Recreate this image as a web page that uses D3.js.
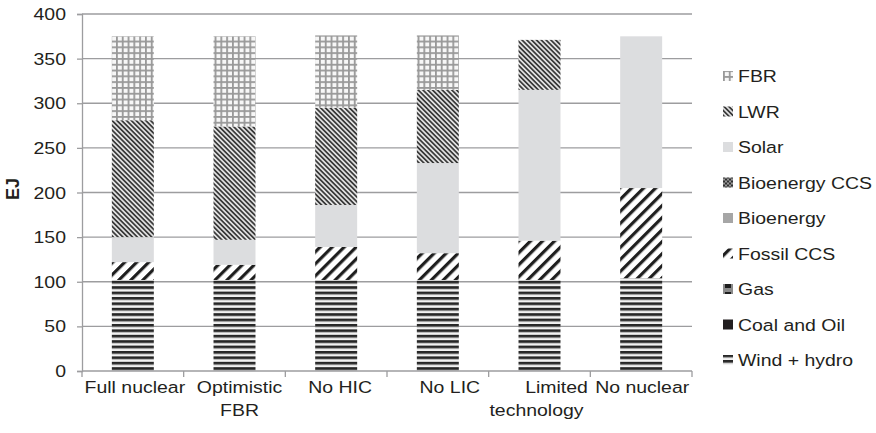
<!DOCTYPE html>
<html>
<head>
<meta charset="utf-8">
<script src="https://cdn.jsdelivr.net/npm/d3@7"></script>
<style>
  html, body { margin: 0; padding: 0; background: #fff; }
  svg { display: block; }
  text { font-family: "Liberation Sans", Arial, sans-serif; fill: #231f20; }
</style>
</head>
<body>
<svg id="chart" width="876" height="433"></svg>
<script>
// ---------- DATA ----------
const categories = ["Full nuclear", "Optimistic FBR", "No HIC", "No LIC", "Limited technology", "No nuclear"];
const categoryLines = [["Full nuclear"], ["Optimistic", "FBR"], ["No HIC"], ["No LIC"], ["Limited", "technology"], ["No nuclear"]];

// stack order, bottom to top
const seriesNames = ["Wind + hydro", "Coal and Oil", "Gas", "Fossil CCS", "Bioenergy", "Bioenergy CCS", "Solar", "LWR", "FBR"];

const windHydro    = [102, 102, 102, 102, 102, 104];
const coalOil      = [0, 0, 0, 0, 0, 0];
const gas          = [0, 0, 0, 0, 0, 0];
const fossilCCS    = [20, 17, 37, 30, 44, 101];
const bioenergy    = [0, 0, 0, 0, 0, 0];
const bioenergyCCS = [0, 0, 0, 0, 0, 0];
const solar        = [28, 28, 47, 101, 169, 170];
const lwr          = [131, 127, 109, 82, 56, 0];
const fbr          = [94, 101, 81, 61, 0, 0];

const yTicks = [0, 50, 100, 150, 200, 250, 300, 350, 400];
const legendOrder = ["FBR", "LWR", "Solar", "Bioenergy CCS", "Bioenergy", "Fossil CCS", "Gas", "Coal and Oil", "Wind + hydro"];

(function () {
// ---------- BUILD TABLE ----------
const valuesBySeries = {
  "Wind + hydro": windHydro, "Coal and Oil": coalOil, "Gas": gas, "Fossil CCS": fossilCCS,
  "Bioenergy": bioenergy, "Bioenergy CCS": bioenergyCCS, "Solar": solar, "LWR": lwr, "FBR": fbr
};
const table = categories.map((c, i) => {
  const row = { category: c };
  seriesNames.forEach(s => row[s] = valuesBySeries[s][i]);
  return row;
});

// ---------- LAYOUT ----------
const svg = d3.select("#chart");
const mLeft = 82, mRight = 692, mTop = 14, mBottom = 371;
const SX = 1.18; // horizontal text stretch seen in the reference

const x = d3.scaleBand().domain(categories).range([mLeft, mRight]).paddingInner(0.587).paddingOuter(0.2935);
const y = d3.scaleLinear().domain([0, 400]).range([mBottom, mTop]);
const step = x.step();

// ---------- PATTERNS ----------
const defs = svg.append("defs");
function pat(id, w, h, rot) {
  const p = defs.append("pattern").attr("id", id).attr("patternUnits", "userSpaceOnUse")
    .attr("width", w).attr("height", h);
  if (rot) p.attr("patternTransform", `rotate(${rot})`);
  return p;
}
// Wind + hydro: horizontal stripes
let p = pat("p-wind", 6, 5.4);
p.append("rect").attr("width", 6).attr("height", 5.4).attr("fill", "#f2f2f2");
p.append("rect").attr("y", 0).attr("width", 6).attr("height", 2.6).attr("fill", "#262626");
p.append("rect").attr("y", 2.6).attr("width", 6).attr("height", 0.6).attr("fill", "#9a9a9a");
// Fossil CCS: wide "/" stripes
p = pat("p-fossil", 8.5, 8.5, 45);
p.append("rect").attr("width", 8.5).attr("height", 8.5).attr("fill", "#ffffff");
p.append("rect").attr("width", 3.2).attr("height", 8.5).attr("fill", "#1e1e1e");
// LWR: narrow "\" stripes
p = pat("p-lwr", 3.4, 3.4, -45);
p.append("rect").attr("width", 3.4).attr("height", 3.4).attr("fill", "#e0e0e0");
p.append("rect").attr("width", 1.7).attr("height", 3.4).attr("fill", "#3a3a3a");
// FBR: grid
p = pat("p-fbr", 5.8, 5.8);
p.append("rect").attr("width", 5.8).attr("height", 5.8).attr("fill", "#f7f7f7");
p.append("rect").attr("width", 1.8).attr("height", 5.8).attr("fill", "#999999");
p.append("rect").attr("width", 5.8).attr("height", 1.8).attr("fill", "#999999");
// Bioenergy CCS: dark checker
p = pat("p-bccs", 4, 4);
p.append("rect").attr("width", 4).attr("height", 4).attr("fill", "#303030");
p.append("rect").attr("width", 2).attr("height", 2).attr("fill", "#9a9a9a");
p.append("rect").attr("x", 2).attr("y", 2).attr("width", 2).attr("height", 2).attr("fill", "#9a9a9a");
// Gas: dark blocks with light frame
p = pat("p-gas", 10, 10);
p.append("rect").attr("width", 10).attr("height", 10).attr("fill", "#8a8a8a");
p.append("rect").attr("x", 2).attr("y", 3).attr("width", 6).attr("height", 6).attr("fill", "#1e1e1e");

const fills = {
  "Wind + hydro": "url(#p-wind)", "Coal and Oil": "#231f20", "Gas": "url(#p-gas)",
  "Fossil CCS": "url(#p-fossil)", "Bioenergy": "#a6a6a6", "Bioenergy CCS": "url(#p-bccs)",
  "Solar": "#dcdddf", "LWR": "url(#p-lwr)", "FBR": "url(#p-fbr)"
};

// ---------- GRIDLINES ----------
svg.append("g").selectAll("line").data(yTicks.filter(t => t > 0)).join("line")
  .attr("x1", mLeft).attr("x2", mRight)
  .attr("y1", d => y(d)).attr("y2", d => y(d))
  .attr("stroke", "#9d9d9f").attr("stroke-width", 1.3);

// ---------- BARS ----------
const stack = d3.stack().keys(seriesNames);
const layers = stack(table);
svg.append("g").selectAll("g").data(layers).join("g")
  .attr("fill", d => fills[d.key])
  .selectAll("rect").data(d => d.filter(v => v[1] - v[0] > 0)).join("rect")
  .attr("x", d => x(d.data.category))
  .attr("width", x.bandwidth())
  .attr("y", d => y(d[1]))
  .attr("height", d => y(d[0]) - y(d[1]));

// ---------- AXES ----------
const axisColor = "#9d9d9f";
const yAxis = d3.axisLeft(y).tickValues(yTicks).tickSize(5).tickFormat(d3.format("d"));
const gy = svg.append("g").attr("transform", `translate(${mLeft},0)`).call(yAxis);
gy.select(".domain").attr("stroke", axisColor).attr("stroke-width", 1.3);
gy.selectAll(".tick line").attr("stroke", axisColor).attr("stroke-width", 1.3);
gy.selectAll(".tick text").remove();
svg.append("g").selectAll("text").data(yTicks).join("text")
  .attr("text-anchor", "end")
  .attr("transform", d => `translate(${mLeft - 16},${y(d) + 6}) scale(${SX},1)`)
  .style("font-size", "16.5px")
  .text(d => d);

const boundaries = [mLeft].concat(categories.map(c => x(c) + x.bandwidth() / 2 + step / 2));
svg.append("line").attr("x1", mLeft).attr("x2", mRight).attr("y1", mBottom).attr("y2", mBottom)
  .attr("stroke", axisColor).attr("stroke-width", 1.3);
svg.append("g").selectAll("line").data(boundaries).join("line")
  .attr("x1", d => d).attr("x2", d => d).attr("y1", mBottom).attr("y2", mBottom + 6)
  .attr("stroke", axisColor).attr("stroke-width", 1.3);

const lineOffsets = [[2], [5, 5], [4], [12], [17, -3], [1]];
const xl = svg.append("g");
categories.forEach((c, i) => {
  const cx = x(c) + x.bandwidth() / 2;
  categoryLines[i].forEach((ln, j) => {
    xl.append("text")
      .attr("text-anchor", "middle")
      .attr("transform", `translate(${cx + lineOffsets[i][j]},${393 + j * 23}) scale(${SX},1)`)
      .style("font-size", "16.5px")
      .text(ln);
  });
});

svg.append("text")
  .attr("transform", `translate(19,189) rotate(-90)`)
  .attr("text-anchor", "middle")
  .style("font-size", "18px").style("font-weight", "bold")
  .text("EJ");

// ---------- LEGEND ----------
const legendTop = 76, legendGap = 35.5;
const lg = svg.append("g").selectAll("g").data(legendOrder).join("g")
  .attr("transform", (d, i) => `translate(723,${legendTop + i * legendGap})`);
lg.append("rect").attr("x", 0).attr("y", -5).attr("width", 10).attr("height", 10)
  .attr("fill", d => fills[d]);
lg.append("text")
  .attr("transform", `translate(15,6) scale(${SX},1)`)
  .style("font-size", "16.5px")
  .text(d => d);
})();
</script>
</body>
</html>
